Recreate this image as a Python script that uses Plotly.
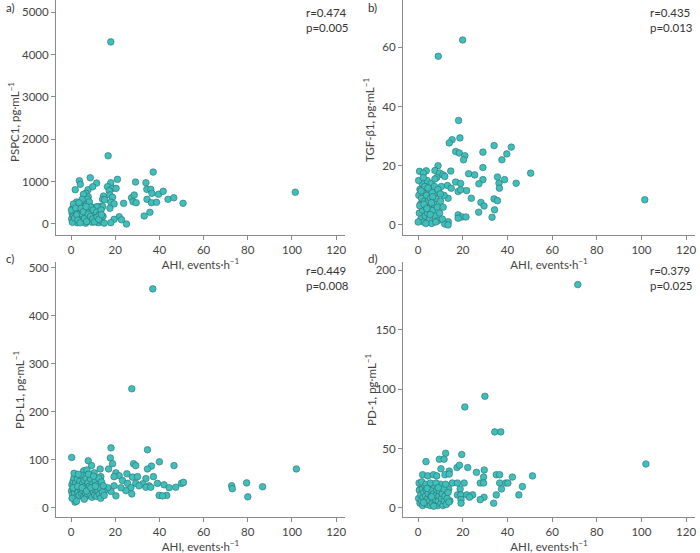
import plotly.graph_objects as go

# ---------------- data ----------------
# a) PSPC1
pspc1_ahi = [18, 16.8, 101.5, 37.2, 8.7, 3.8, 4.2, 11.6, 1.9, 18, 21, 29.2, 33.9, 16.5, 18.8, 20.4, 7.7, 9.8,
             6.8, 7.8, 5.6, 7.5, 14.7, 14.3, 15.2, 17.3, 17.6, 18.8, 18, 19.5, 23.8, 27.4, 28.6, 28.1, 29.5,
             34.3, 36.1, 36.6, 39.6, 41.7, 34.4, 36.4, 38.7, 43.9, 46.5, 50.7, 35.7, 33.1, 21.8, 19.5, 18,
             22.9, 25.1, 17.6, 13.1, 14.3, 10.7, 9.5, 11.7,
             0.3, 0.5, 0.8, 1.0, 1.2, 1.5, 1.8, 2.0, 2.2, 2.5, 2.8, 3.0, 3.2, 3.5, 3.8, 4.0, 4.2, 4.5, 4.8,
             5.0, 5.2, 5.5, 5.8, 6.0, 6.3, 6.6, 7.0, 7.3, 7.6, 8.0, 8.3, 8.6, 9.0, 9.3, 9.6, 10.0, 10.4,
             10.8, 11.2, 11.6, 12.0, 12.4, 12.8, 13.2, 13.6, 14.0, 14.5, 15.0, 0.2, 0.6, 1.1, 1.6, 2.1, 2.6,
             3.1, 3.6, 4.1, 4.6, 5.1, 5.6, 6.1, 6.8, 7.1, 7.8, 8.8, 9.8, 10.6, 11.8, 12.6, 13.8]
pspc1_val = [4300, 1610, 750, 1226, 1092, 1021, 936, 967, 809, 975, 1054, 990, 975, 880, 842, 842, 809, 880,
             724, 644, 701, 583, 660, 583, 570, 786, 684, 630, 512, 476, 488, 620, 684, 526, 503,
             818, 818, 724, 701, 771, 583, 503, 512, 583, 620, 488, 276, 189, 172, 110, 31,
             99, 0, 370, 409, 409, 370, 393, 409,
             120, 250, 380, 60, 200, 450, 310, 90, 170, 520, 30, 260, 400, 130, 340, 480, 210, 60, 290,
             580, 150, 420, 100, 360, 240, 20, 460, 180, 310, 80, 520, 140, 400, 250, 40, 330, 120,
             200, 60, 280, 150, 30, 220, 100, 330, 60, 180, 20, 330, 40, 470, 140, 380, 220,
             90, 500, 30, 370, 230, 290, 130, 410, 60, 230, 180, 120, 50, 160, 110, 220]

# b) TGF-beta1
tgf_ahi = [19.9, 9, 101.5, 18.1, 18.7, 15.2, 13.9, 34, 41.7, 16.8, 18.4, 29, 20.9, 20.3, 39.7, 37.5, 8.9, 29,
           0.6, 3.6, 2.4, 7.5, 9.6, 11.1, 11.9, 14.6, 22.6, 25.3, 50.4, 35.5, 38.7, 29, 36.2, 43.9, 27.2,
           36.4, 16.8, 19, 13.1, 14.8, 17.9, 19, 21.7, 13.4, 23.8, 28.1, 29.5, 34, 35.5, 34.2, 27.1, 33.1,
           17.9, 19.7, 21.4, 17.9, 13.5, 11.9, 13.4,
           0.3, 0.5, 0.8, 1.0, 1.2, 1.5, 1.8, 2.0, 2.2, 2.5, 2.8, 3.0, 3.2, 3.5, 3.8, 4.0, 4.2, 4.5, 4.8,
           5.0, 5.2, 5.5, 5.8, 6.0, 6.3, 6.6, 7.0, 7.3, 7.6, 8.0, 8.3, 8.6, 9.0, 9.3, 9.6, 10.0, 10.4,
           10.8, 11.2, 11.6, 0.2, 0.7, 1.3, 2.3, 3.4, 4.4, 5.4, 6.5, 7.5, 8.8, 0.0, 2.6, 3.9, 5.9, 7.9, 9.9]
tgf_val = [62.5, 57, 8.5, 35.3, 29.4, 28.8, 27.7, 26.8, 26.3, 24.8, 24.3, 24.6, 23.4, 22, 24, 22, 20, 19.4,
           18.1, 18.3, 17.5, 18.4, 17.5, 16.9, 16.4, 18.2, 17.3, 16.9, 17.5, 16.2, 15.3, 15.3, 14.1, 14.1, 13.9,
           12.4, 14.5, 14, 13.3, 12.4, 11.3, 11.9, 11.6, 9, 9, 7.6, 6.4, 8.8, 8.2, 5.1, 4.3, 2.6,
           3.4, 2.7, 2.7, 2.3, 1.1, 0.3, 0.0,
           10, 4, 12, 7, 2, 9, 14, 5, 11, 1, 8, 13, 3, 6, 10, 15, 4, 8, 12,
           2, 6, 9, 14, 0.5, 11, 5, 7, 13, 3, 9, 16, 6, 1.5, 11, 4, 8, 13,
           2, 6, 10, 15, 6.5, 11.5, 16, 0.5, 12.5, 3.5, 9.5, 15.5, 12, 1, 7, 5.5, 7.5, 1, 10.5]

# c) PD-L1
pdl1_ahi = [37, 27.5, 102, 72.7, 73, 79.5, 80, 86.7, 0.3, 18.1, 17.8, 34.6, 7.8, 9.3, 13.2, 17, 18.8, 28.3,
            29.3, 40, 46.6, 36.4, 34.6, 25.3, 37.3, 5.7, 7.2, 10.5, 20.3, 21.8, 19.5, 13.5, 27.8, 30.1, 33.9,
            23.3, 25.6, 29.3, 32.4, 35.3, 39.1, 42.1, 44.4, 47.4, 50, 50.9, 30.8, 33.9, 36.1, 27.1, 24.8,
            22.6, 19.5, 18.1, 20.3, 27.5, 39.9, 43.3, 41.4, 16.6, 13.5, 15, 12.3, 1.8,
            0.2, 0.4, 0.6, 0.9, 1.1, 1.3, 1.6, 1.9, 2.1, 2.3, 2.6, 2.9, 3.1, 3.4, 3.7, 4.0, 4.2, 4.5, 4.8,
            5.1, 5.3, 5.6, 5.9, 6.2, 6.5, 6.8, 7.1, 7.4, 7.7, 8.0, 8.3, 8.6, 8.9, 9.2, 9.5, 9.8, 10.1, 10.4,
            10.7, 11.0, 11.3, 11.6, 11.9, 12.2, 12.5, 12.8, 13.1, 13.4, 13.8, 14.2, 14.6, 15.0, 0.5, 1.4,
            2.5, 3.3, 6.0, 7.9, 10.2, 1.0, 3.0, 5.0, 7.0, 9.0, 11.0]
pdl1_val = [456, 248, 81, 46, 40, 52, 23, 44, 105, 125, 104, 121, 98, 88, 81, 81, 92, 92,
            88, 96, 88, 87, 81, 71, 65, 77, 79, 73, 73, 67, 65, 65, 64, 65, 61,
            57, 51, 51, 50, 46, 51, 48, 42, 43, 51, 53, 46, 43, 43, 42, 36,
            42, 46, 34, 25, 29, 26, 26, 25, 42, 50, 34, 30, 12,
            35, 48, 28, 55, 40, 62, 30, 45, 52, 22, 38, 60, 33, 47, 26, 55, 40, 68, 30,
            50, 36, 22, 58, 44, 31, 62, 40, 25, 52, 35, 45, 28, 60, 38, 22, 50, 33, 44,
            27, 56, 37, 24, 48, 35, 62, 28, 42, 20, 54, 33, 46, 26, 20, 72,
            14, 70, 18, 70, 66, 42, 45, 42, 35, 42, 45]

# d) PD-1
pd1_ahi = [71.5, 102, 29.9, 20.9, 34.3, 37, 12.3, 19.5, 3.5, 9.5, 11.6, 10.2, 13.9, 17.4, 18.5, 22.2, 26.1,
           29.6, 35, 36.5, 42.2, 51.2, 2, 4.3, 6.8, 8.3, 12, 13.9, 29.3, 27.8, 29.3, 36.5, 39.2, 40.2, 46.7,
           37.3, 45.1, 15.3, 17.6, 20.6, 18.8, 13.7, 17.6, 19.1, 21.8, 24.4, 23, 35, 29.5, 27.8, 33.8, 19.2,
           19.2, 14.2,
           0.2, 0.5, 0.8, 1.0, 1.2, 1.5, 1.8, 2.0, 2.2, 2.5, 2.8, 3.0, 3.3, 3.6, 3.9, 4.2, 4.5, 4.8, 5.1,
           5.4, 5.7, 6.0, 6.3, 6.6, 6.9, 7.2, 7.5, 7.8, 8.1, 8.4, 8.7, 9.0, 9.3, 9.6, 9.9, 10.2, 10.5, 10.8,
           11.1, 11.4, 11.7, 12.0, 12.3, 12.6, 13.0, 13.4, 13.8, 0.4, 1.6, 3.5, 5.5, 8.0, 2.4, 4.0, 6.0,
           7.0, 9.0]
pd1_val = [188, 37, 94, 85, 64, 64, 46, 45, 39, 41, 41, 33, 31, 34, 36, 34, 30,
           32, 28, 28, 26, 27, 28, 27, 28, 27, 28, 28.5, 26, 21, 21, 21, 21, 21, 18,
           16, 11, 21, 21, 21, 16, 16, 11, 11, 11, 11, 9, 11, 9, 7, 4, 7,
           4, 6,
           8, 15, 4, 20, 11, 6, 16, 2, 9, 13, 19, 5, 10, 15, 3, 8, 12, 20, 6,
           2, 10, 15, 4, 8, 12, 19, 3, 7, 11, 15, 2, 6, 10, 14, 20, 4, 8, 12,
           2, 16, 6, 10, 20, 3, 8, 13, 5, 21, 22, 20, 21, 21, 4.5, 16.5, 9.5,
           1.5, 17]

x_ticks = [0, 20, 40, 60, 80, 100, 120]
x_title = "AHI, events·h<sup>−1</sup>"
panels = [
    dict(letter="a)", x=pspc1_ahi, y=pspc1_val, ytitle="PSPC1, pg·mL<sup>−1</sup>", r="r=0.474", p="p=0.005",
         yticks=[0, 1000, 2000, 3000, 4000, 5000], yrange=[-260, 5290]),
    dict(letter="b)", x=tgf_ahi, y=tgf_val, ytitle="TGF-β1, pg·mL<sup>−1</sup>", r="r=0.435", p="p=0.013",
         yticks=[0, 20, 40, 60], yrange=[-3.4, 76]),
    dict(letter="c)", x=pdl1_ahi, y=pdl1_val, ytitle="PD-L1, pg·mL<sup>−1</sup>", r="r=0.449", p="p=0.008",
         yticks=[0, 100, 200, 300, 400, 500], yrange=[-19, 512]),
    dict(letter="d)", x=pd1_ahi, y=pd1_val, ytitle="PD-1, pg·mL<sup>−1</sup>", r="r=0.379", p="p=0.025",
         yticks=[0, 50, 100, 150, 200], yrange=[-7.6, 207]),
]

W, H = 700, 553
# pixel boxes of plot areas (left, right, top, bottom)
boxes = [(56, 345, 0, 235), (403, 695, 0, 235), (56, 345, 262, 517), (403, 695, 262, 517)]
letter_pos = [(4, 8), (366, 8), (4, 258), (366, 258)]
rp_pos = [(304, 10), (648, 10), (304, 268), (648, 268)]
ytitle_pos = [(14, 122), (369, 120), (18, 390), (370, 390)]

FONT = "Lato"
TXT = "#444"
fig = go.Figure()
annotations = []
for i, (pn, box) in enumerate(zip(panels, boxes)):
    n = "" if i == 0 else str(i + 1)
    l, r, t, b = box
    fig.add_trace(go.Scatter(
        x=pn["x"], y=pn["y"], mode="markers", xaxis="x" + n, yaxis="y" + n, showlegend=False,
        hoverinfo="skip",
        marker=dict(size=6.6, color="#3fbfbc", line=dict(color="#2b6e6c", width=0.6)),
    ))
    axcommon = dict(showline=True, linecolor="#8a8a8a", linewidth=1, ticks="outside", ticklen=4,
                    tickcolor="#8a8a8a", showgrid=False, zeroline=False,
                    tickfont=dict(family=FONT, size=11.5, color=TXT))
    fig.layout["xaxis" + n] = dict(axcommon, domain=[l / W, r / W], anchor="y" + n, range=[-6.8, 124],
                                  tickvals=x_ticks,
                                  title=dict(text=x_title, font=dict(family=FONT, size=11.5, color=TXT),
                                             standoff=2))
    fig.layout["yaxis" + n] = dict(axcommon, domain=[1 - b / H, 1 - t / H], anchor="x" + n,
                                  range=pn["yrange"], tickvals=pn["yticks"])
    tx, ty = ytitle_pos[i]
    annotations.append(dict(text=pn["ytitle"], x=tx / W, y=1 - ty / H, xref="paper", yref="paper",
                            xanchor="center", yanchor="middle", textangle=-90, showarrow=False,
                            font=dict(family=FONT, size=11.5, color=TXT)))
    lx, ly = letter_pos[i]
    annotations.append(dict(text=pn["letter"], x=lx / W, y=1 - ly / H, xref="paper", yref="paper",
                            xanchor="left", yanchor="middle", showarrow=False,
                            font=dict(family=FONT, size=11.5, color="#333")))
    rx, ry = rp_pos[i]
    annotations.append(dict(text=pn["r"] + "<br>" + pn["p"], x=rx / W, y=1 - (ry - 6) / H, xref="paper",
                            yref="paper", xanchor="left", yanchor="top", align="left", showarrow=False,
                            font=dict(family=FONT, size=11.5, color="#333")))

fig.update_layout(width=W, height=H, margin=dict(l=0, r=0, t=0, b=0), plot_bgcolor="white",
                  paper_bgcolor="white", annotations=annotations, font=dict(family=FONT))
fig.write_html("out.html", config={"displayModeBar": False})

# remove the default page margin so the figure sits at the window's top-left corner
with open("out.html", "r", encoding="utf-8") as f:
    html = f.read()
html = html.replace("<head>", "<head><style>html,body{margin:0;padding:0;overflow:hidden;}</style>", 1)
with open("out.html", "w", encoding="utf-8") as f:
    f.write(html)
